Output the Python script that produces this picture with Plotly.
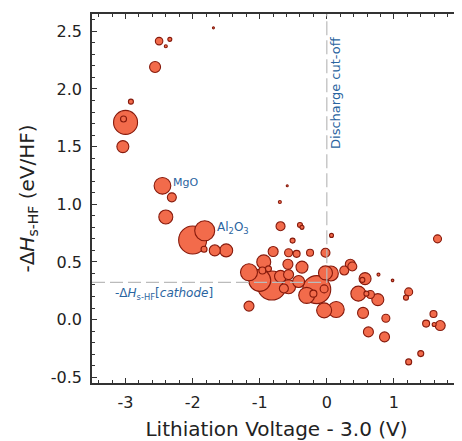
import plotly.graph_objects as go

# Lithiation voltage - 3.0 (V)
voltage = [-1.69, -2.50, -2.34, -2.40, -2.56, -2.92, -3.00, -3.03, -3.04, -2.45,
           -2.31, -2.40, -1.82, -2.00, -1.83, -1.67, -1.50, -0.59, -0.70, -0.69,
           -0.40, -0.37, -0.51, -0.80, -0.57, -0.45, -0.25, -0.02, 0.07, 1.65,
           -0.94, -1.16, -0.96, -0.87, -0.58, -0.37, -0.69, -0.57, -1.00, -0.82,
           -0.64, -0.57, -0.42, -1.16, -0.30, -0.15, -0.20, -0.04, -0.02, 0.06,
           0.26, 0.35, 0.38, 0.57, 0.53, 0.77, 0.98, 1.22, 1.18, 0.47,
           0.59, 0.65, 0.76, -0.04, 0.14, 0.54, 0.88, 0.62, 0.86, 1.59,
           1.48, 1.60, 1.69, 1.40, 1.22]
# -dH_s-HF (eV/HF)
dh = [2.53, 2.415, 2.43, 2.37, 2.19, 1.89, 1.71, 1.74, 1.50, 1.16,
      1.06, 0.89, 0.77, 0.69, 0.61, 0.60, 0.60, 1.16, 1.02, 0.81,
      0.82, 0.80, 0.685, 0.59, 0.58, 0.57, 0.58, 0.58, 0.73, 0.70,
      0.50, 0.41, 0.425, 0.44, 0.48, 0.455, 0.375, 0.39, 0.34, 0.295,
      0.27, 0.285, 0.33, 0.117, 0.21, 0.26, 0.225, 0.266, 0.405, 0.40,
      0.425, 0.48, 0.46, 0.355, 0.344, 0.39, 0.34, 0.24, 0.19, 0.225,
      0.225, 0.217, 0.173, 0.08, 0.087, 0.058, 0.011, -0.107, -0.15, 0.049,
      -0.035, -0.043, -0.052, -0.295, -0.367]
# relative bubble size
rel_size = [2, 7.5, 4, 3, 11, 5, 24, 6, 12, 16.7,
            9, 14, 20, 28, 6, 11, 13, 2, 3, 9,
            5, 4, 5, 10, 8, 7, 7, 9, 4, 8,
            14, 17, 7, 6, 10, 12, 12, 10, 22, 29,
            9, 14, 12, 10, 16, 28, 7, 8, 14, 15,
            9, 10, 9, 12, 5, 3, 2.5, 8, 5, 15,
            5, 8, 12, 15, 16, 11, 8, 10, 10, 7,
            7, 4, 10, 6, 6]

cutoff_v = 0.0
cathode_dh = 0.323

order = sorted(range(len(voltage)), key=lambda i: -rel_size[i])
xs = [voltage[i] for i in order]
ys = [dh[i] for i in order]
ss = [rel_size[i] for i in order]

blue = "#2a64a0"
font = "DejaVu Sans, Liberation Sans, Arial, sans-serif"

fig = go.Figure()
fig.add_trace(go.Scatter(
    x=xs, y=ys, mode="markers",
    marker=dict(size=ss, sizemode="diameter", sizeref=1,
                color="#f26b4b", line=dict(color="#861a0c", width=1.1), opacity=1),
    hoverinfo="x+y", showlegend=False))

# dashed reference lines
fig.add_shape(type="line", xref="x", yref="y", x0=-3.5, x1=cutoff_v, y0=cathode_dh, y1=cathode_dh,
              line=dict(color="#bbbbbb", width=1.2, dash="13px,5px"))
fig.add_shape(type="line", xref="x", yref="y", x0=cutoff_v, x1=cutoff_v, y0=cathode_dh, y1=2.65,
              line=dict(color="#bbbbbb", width=1.2, dash="14px,5px"))

fig.add_annotation(x=-2.32, y=1.19, text="MgO", showarrow=False, xanchor="left",
                   font=dict(family=font, size=11, color=blue))
fig.add_annotation(x=-1.66, y=0.79, text="Al<sub>2</sub>O<sub>3</sub>", showarrow=False, xanchor="left",
                   font=dict(family=font, size=12, color=blue))
fig.add_annotation(x=0.13, y=1.97, text="Discharge cut-off", showarrow=False, textangle=-90,
                   font=dict(family=font, size=13, color=blue))
fig.add_annotation(x=-3.18, y=0.225, text="-Δ<i>H</i><sub>s-HF</sub>[<i>cathode</i>]", showarrow=False,
                   xanchor="left", font=dict(family=font, size=12, color=blue))

axis_common = dict(showline=True, linecolor="#333333", linewidth=1.5, mirror="ticks",
                   ticks="inside", ticklen=5, tickwidth=1.2, tickcolor="#333333",
                   showgrid=False, zeroline=False, automargin=False,
                   tickfont=dict(family=font, size=16, color="#222222"))

fig.update_xaxes(range=[-3.5, 2.0], tickvals=[-3, -2, -1, 0, 1, 2], ticktext=["-3", "-2", "-1", "0", "1", "2"],
                 minor=dict(dtick=0.2, tick0=0, ticks="inside", ticklen=3, tickcolor="#333333", showgrid=False),
                 ticklabelstandoff=4,
                 title=dict(text="Lithiation Voltage - 3.0 (V)", font=dict(family=font, size=20, color="#222222"),
                            standoff=11),
                 **axis_common)
fig.update_yaxes(range=[-0.55, 2.65], tickvals=[-0.5, 0, 0.5, 1.0, 1.5, 2.0, 2.5],
                 ticktext=["-0.5", "0.0", "0.5", "1.0", "1.5", "2.0", "2.5"],
                 minor=dict(dtick=0.1, tick0=0, ticks="inside", ticklen=3, tickcolor="#333333", showgrid=False),
                 ticklabelstandoff=5,
                 title=dict(text="-Δ<i>H</i><sub>s-HF</sub> (eV/HF)", font=dict(family=font, size=20, color="#222222"),
                            standoff=11),
                 **axis_common)

fig.update_layout(width=453, height=433, margin=dict(l=84, r=0, t=6, b=58),
                  plot_bgcolor="white", paper_bgcolor="white")

fig.write_html("out.html")
